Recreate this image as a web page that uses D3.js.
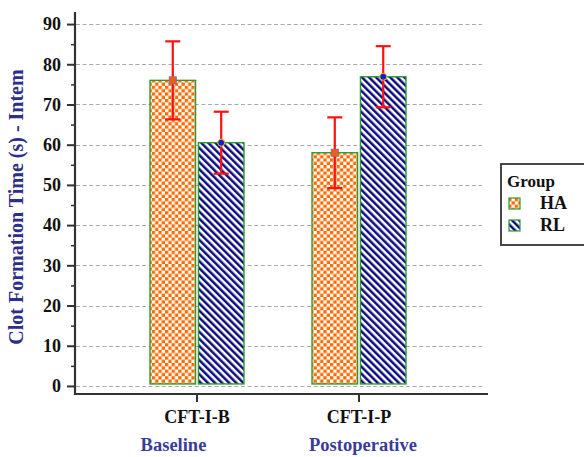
<!DOCTYPE html>
<html><head><meta charset="utf-8">
<script src="https://cdn.jsdelivr.net/npm/d3@7"></script>
<style>body{margin:0;background:#fff}svg{display:block}</style>
</head><body>
<script>
const categories = ["CFT-I-B", "CFT-I-P"];
const groupLabels = ["Baseline", "Postoperative"];
const series = ["HA", "RL"];
const meanHA = [76.0, 58.0];
const errHA = [9.7, 8.8];
const meanRL = [60.5, 76.9];
const errRL = [7.7, 7.6];
const yTicks = [0, 10, 20, 30, 40, 50, 60, 70, 80, 90];
const yMinorTicks = [5, 15, 25, 35, 45, 55, 65, 75, 85];

const W = 584, H = 457;
const svg = d3.select("body").append("svg").attr("width", W).attr("height", H);
const defs = svg.append("defs");

// checkerboard pattern
const pc = defs.append("pattern").attr("id", "check").attr("patternUnits", "userSpaceOnUse")
  .attr("width", 6.6).attr("height", 6.6);
pc.append("rect").attr("width", 6.6).attr("height", 6.6).attr("fill", "#fff");
pc.append("rect").attr("width", 3.3).attr("height", 3.3).attr("fill", "#ff6a00");
pc.append("rect").attr("x", 3.3).attr("y", 3.3).attr("width", 3.3).attr("height", 3.3).attr("fill", "#ff6a00");

// hatch pattern
const ph = defs.append("pattern").attr("id", "hatch").attr("patternUnits", "userSpaceOnUse")
  .attr("width", 5).attr("height", 5).attr("patternTransform", "rotate(-45)");
ph.append("rect").attr("width", 5).attr("height", 5).attr("fill", "#fff");
ph.append("line").attr("x1", 1.3).attr("y1", 0).attr("x2", 1.3).attr("y2", 5)
  .attr("stroke", "#00007a").attr("stroke-width", 2.4);

const fills = {HA: "url(#check)", RL: "url(#hatch)"};

const pLeft = 75, pRight = 488, pTop = 12, pBottom = 394;
const y = d3.scaleLinear().domain([-2, 93]).range([pBottom, pTop]);
const x = d3.scaleBand().domain(categories).range([pLeft, 481]).paddingInner(0.42).paddingOuter(0.463);
const xs = d3.scaleBand().domain(series).range([0, x.bandwidth()]).paddingInner(0.06);

const font = "'Liberation Serif','Times New Roman',serif";

// gridlines
svg.append("g").selectAll("line").data(yTicks).join("line")
  .attr("x1", pLeft + 1).attr("x2", 482)
  .attr("y1", d => Math.round(y(d)) + 0.5).attr("y2", d => Math.round(y(d)) + 0.5)
  .attr("stroke", "#aaa").attr("stroke-width", 1.2).attr("stroke-dasharray", "4,2.6");

// bars
const rows = [];
categories.forEach((c, i) => {
  rows.push({cat: c, s: "HA", v: meanHA[i], e: errHA[i]});
  rows.push({cat: c, s: "RL", v: meanRL[i], e: errRL[i]});
});
const g = svg.append("g");
g.selectAll("rect").data(rows).join("rect")
  .attr("x", d => x(d.cat) + xs(d.s))
  .attr("width", xs.bandwidth())
  .attr("y", d => y(d.v))
  .attr("height", d => y(0) - 2 - y(d.v))
  .attr("fill", d => fills[d.s])
  .attr("stroke", "#2e9a2e").attr("stroke-width", 1.4);

// error bars
const eb = svg.append("g").attr("stroke", "#ff1010").attr("stroke-width", 2.2);
rows.forEach(d => {
  const cx = x(d.cat) + xs(d.s) + xs.bandwidth() / 2;
  eb.append("line").attr("x1", cx).attr("x2", cx).attr("y1", y(d.v + d.e)).attr("y2", y(d.v - d.e));
  eb.append("line").attr("x1", cx - 7.5).attr("x2", cx + 7.5).attr("y1", y(d.v + d.e)).attr("y2", y(d.v + d.e));
  eb.append("line").attr("x1", cx - 7.5).attr("x2", cx + 7.5).attr("y1", y(d.v - d.e)).attr("y2", y(d.v - d.e));
});
// markers
rows.forEach(d => {
  const cx = x(d.cat) + xs(d.s) + xs.bandwidth() / 2;
  if (d.s === "HA") {
    svg.append("rect").attr("x", cx - 3.5).attr("y", y(d.v) - 3.5).attr("width", 7).attr("height", 7)
      .attr("fill", "#f06010").attr("stroke", "#996688").attr("stroke-width", 1);
  } else {
    svg.append("circle").attr("cx", cx).attr("cy", y(d.v)).attr("r", 3.5)
      .attr("fill", "#1020d0").attr("stroke", "#f0c020").attr("stroke-width", 1);
  }
});

// y axis
const ya = svg.append("g").attr("transform", `translate(${pLeft},0)`)
  .call(d3.axisLeft(y).tickValues(yTicks).tickSize(8).tickPadding(6));
ya.attr("font-family", font);
ya.select(".domain").remove();
ya.selectAll(".tick line").attr("stroke", "#333").attr("stroke-width", 2);
ya.selectAll("text").style("font-family", font).attr("font-weight", "bold").attr("font-size", 18).attr("fill", "#111");
const ym = svg.append("g").attr("transform", `translate(${pLeft},0)`)
  .call(d3.axisLeft(y).tickValues(yMinorTicks).tickSize(4).tickFormat(""));
ym.select(".domain").remove();
ym.selectAll(".tick line").attr("stroke", "#333").attr("stroke-width", 1.5);
svg.append("line").attr("x1", pLeft).attr("x2", pLeft).attr("y1", pTop).attr("y2", pBottom + 1)
  .attr("stroke", "#333").attr("stroke-width", 2.2);

// x axis
const xa = svg.append("g").attr("transform", `translate(0,${pBottom})`)
  .call(d3.axisBottom(x).tickSize(8).tickPadding(8));
xa.attr("font-family", font);
xa.select(".domain").remove();
xa.selectAll(".tick line").attr("stroke", "#333").attr("stroke-width", 2);
xa.selectAll("text").style("font-family", font).attr("font-weight", "bold").attr("font-size", 18).attr("fill", "#111");
svg.append("line").attr("x1", pLeft - 1).attr("x2", pRight).attr("y1", pBottom).attr("y2", pBottom)
  .attr("stroke", "#333").attr("stroke-width", 2.2);

// group labels
const groupOffset = [-23.5, 4];
svg.append("g").selectAll("text").data(categories).join("text")
  .attr("x", (d, i) => x(d) + x.bandwidth() / 2 + groupOffset[i])
  .attr("y", 451)
  .attr("text-anchor", "middle")
  .style("font-family", font).attr("font-weight", "bold").attr("font-size", 18.5).attr("fill", "#3b3b9a")
  .text((d, i) => groupLabels[i]);

// y label
svg.append("text").attr("transform", "translate(23,207) rotate(-90)")
  .attr("text-anchor", "middle")
  .style("font-family", font).attr("font-weight", "bold").attr("font-size", 20).attr("fill", "#2e2e8a")
  .text("Clot Formation Time (s) - Intem");

// legend
const lg = svg.append("g");
lg.append("rect").attr("x", 501).attr("y", 164).attr("width", 100).attr("height", 81)
  .attr("fill", "#fff").attr("stroke", "#333").attr("stroke-width", 1.8);
lg.append("text").attr("x", 507).attr("y", 187).style("font-family", font).attr("font-weight", "bold")
  .attr("font-size", 17).attr("fill", "#111").text("Group");
series.forEach((s, i) => {
  const yy = 198 + i * 22;
  lg.append("rect").attr("x", 509).attr("y", yy).attr("width", 11).attr("height", 11)
    .attr("fill", fills[s]).attr("stroke", "#2e9a2e").attr("stroke-width", 1.2);
  lg.append("text").attr("x", 540).attr("y", yy + 11).style("font-family", font).attr("font-weight", "bold")
    .attr("font-size", 18).attr("fill", "#111").text(s);
});
</script>
</body></html>
